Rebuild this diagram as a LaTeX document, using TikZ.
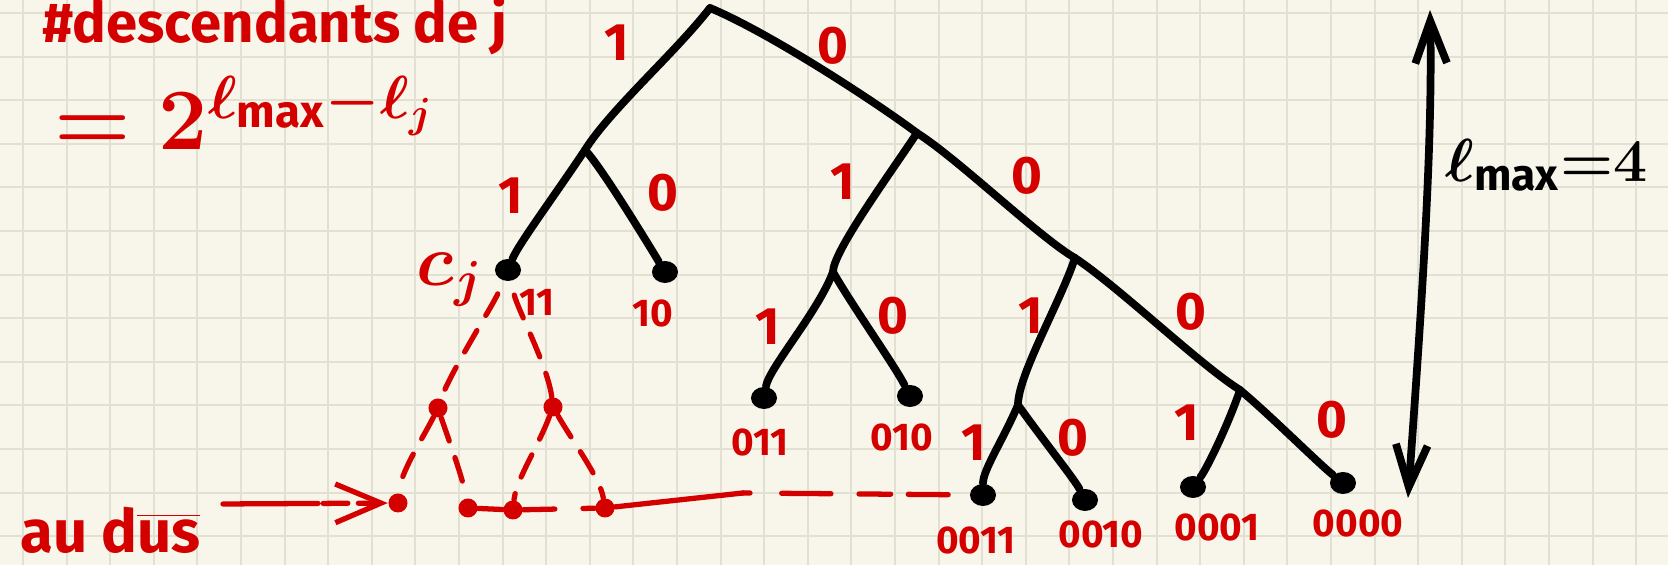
\documentclass[tikz,border=0pt]{standalone}
\usepackage{fontspec}
\setmainfont{Fira Sans}
\usetikzlibrary{arrows.meta,shapes.geometric}
\definecolor{paper}{HTML}{F8F6EA}
\definecolor{gridc}{HTML}{E2E0D3}
\definecolor{ink}{HTML}{D40000}
\tikzset{
  branch/.style={line width=2.2pt,line cap=round,line join=round},
  leaf/.style={ellipse,fill=black,inner sep=0pt,minimum width=0.26cm,minimum height=0.22cm},
  rdot/.style={circle,fill=ink,inner sep=0pt,minimum size=0.19cm},
  rdash/.style={ink,line width=1.5pt,line cap=round,dash pattern=on 7pt off 5pt},
  bit/.style={ink,font=\bfseries\fontsize{15}{15}\selectfont},
  code/.style={ink,font=\bfseries\fontsize{11}{11}\selectfont},
}

\begin{document}
\begin{tikzpicture}[line cap=round,line join=round,x=0.01cm,y=-0.01cm]
  % paper
  \fill[paper] (0,0) rectangle (1668,565);
  \useasboundingbox (0,0) rectangle (1668,565);
  \foreach \i in {0,...,37} {
    \draw[gridc,line width=0.6pt] ({23+43.6*\i},0) -- ++(0,565);
  }
  \foreach \j in {0,...,12} {
    \draw[gridc,line width=0.6pt] (0,{13+43.6*\j}) -- ++(1668,0);
  }

  % code tree
  \coordinate (root) at (710,8);
  \coordinate (n1) at (585,150);
  \coordinate (n0) at (917,133);
  \coordinate (n01) at (833,272);
  \coordinate (n00) at (1075,258);
  \coordinate (n001) at (1018,405);
  \coordinate (n000) at (1240,390);
  \node[leaf] (n11) at (508,270) {};
  \node[leaf] (n10) at (665,272) {};
  \node[leaf] (n011) at (764,398) {};
  \node[leaf] (n010) at (910,396) {};
  \node[leaf] (n0011) at (983,495) {};
  \node[leaf] (n0010) at (1085,500) {};
  \node[leaf] (n0001) at (1193,487) {};
  \node[leaf] (n0000) at (1343,483) {};

  \draw[branch] (root) .. controls +(-35,45) and +(25,-40) .. (n1);
  \draw[branch] (root) .. controls +(60,25) and +(-40,-30) .. (n0);
  \draw[branch] (n1) .. controls +(-30,45) and +(10,-25) .. (n11);
  \draw[branch] (n1) .. controls +(15,15) and +(-15,-25) .. (n10);
  \draw[branch] (n0) .. controls +(-30,45) and +(0,-20) .. (n01);
  \draw[branch] (n0) .. controls +(40,25) and +(-35,-20) .. (n00);
  \draw[branch] (n01) .. controls +(-15,40) and +(5,-30) .. (n011);
  \draw[branch] (n01) .. controls +(20,35) and +(-15,-30) .. (n010);
  \draw[branch] (n00) .. controls +(-15,45) and +(0,-30) .. (n001);
  \draw[branch] (n00) .. controls +(45,30) and +(-40,-25) .. (n000);
  \draw[branch] (n001) .. controls +(-15,35) and +(0,-25) .. (n0011);
  \draw[branch] (n001) .. controls +(25,35) and +(-10,-20) .. (n0010);
  \draw[branch] (n000) .. controls +(-10,30) and +(15,-20) .. (n0001);
  \draw[branch] (n000) .. controls +(30,25) and +(-25,-20) .. (n0000);

  % bits on the branches
  \node[bit] (b1) at (617,43) {1};
  \node[bit] (b0) at (833,46) {0};
  \node[bit] (b11) at (511,196) {1};
  \node[bit] (b10) at (663,193) {0};
  \node[bit] (b01) at (843,182) {1};
  \node[bit] (b00) at (1027,176) {0};
  \node[bit] (b011) at (768,327) {1};
  \node[bit] (b010) at (893,316) {0};
  \node[bit] (b001) at (1031,316) {1};
  \node[bit] (b000) at (1191,312) {0};
  \node[bit] (b0011) at (974,443) {1};
  \node[bit] (b0010) at (1073,438) {0};
  \node[bit] (b0001) at (1187,423) {1};
  \node[bit] (b0000) at (1332,420) {0};

  % codewords
  \node[code] (w11) at (537,302) {11};
  \node[code] (w10) at (653,314) {10};
  \node[code] (w011) at (760,443) {011};
  \node[code] (w010) at (902,437) {010};
  \node[code] (w0011) at (976,540) {0011};
  \node[code] (w0010) at (1101,535) {0010};
  \node[code] (w0001) at (1217,527) {0001};
  \node[code] (w0000) at (1358,523) {0000};
  \node[ink,font=\fontsize{20}{20}\selectfont\boldmath] (cj) at (450,280) {$c_j$};

  % descendants of c_j
  \node[rdot] (r1) at (438,408) {};
  \node[rdot] (r0) at (553,407) {};
  \node[rdot] (r11) at (398,503) {};
  \node[rdot] (r10) at (468,508) {};
  \node[rdot] (r01) at (513,510) {};
  \node[rdot] (r00) at (605,508) {};
  \draw[rdash,shorten <=4pt] (n11) .. controls +(-15,35) and +(12,-35) .. (r1);
  \draw[rdash,shorten <=4pt] (n11) .. controls +(10,40) and +(-5,-40) .. (r0);
  \draw[rdash] (r1) .. controls +(-15,30) and +(2,-30) .. (r11);
  \draw[rdash] (r1) .. controls +(10,30) and +(-5,-30) .. (r10);
  \draw[rdash] (r0) .. controls +(-15,40) and +(3,-30) .. (r01);
  \draw[rdash] (r0) .. controls +(20,35) and +(-5,-30) .. (r00);

  % lowest level
  \coordinate (dstart) at (223,504);
  \coordinate (dmid) at (743,493);
  \draw[ink,line width=1.5pt,dash pattern=on 27pt off 1.5pt on 7pt off 3pt,
    -{Straight Barb[length=13pt,width=11pt]}] (dstart) -- (r11);
  \draw[ink,line width=1.5pt] (r10) -- (r01);
  \draw[rdash,dash pattern=on 9pt off 8pt] (r01) -- (r00);
  \draw[ink,line width=1.5pt] (r00) -- (dmid);
  \draw[rdash,dash pattern=on 2pt off 9pt on 14pt off 8pt on 9pt off 5pt on 14pt off 30pt,
    shorten >=6pt] (dmid) -- (n0011);
  \node[ink,anchor=base west,font=\bfseries\fontsize{17}{17}\selectfont] (audus) at (8,553)
    {au d$\overline{\mbox{us}}$};

  % formula
  \node[ink,anchor=base west,font=\bfseries\fontsize{16}{16}\selectfont] (ndesc) at (30,43)
    {\#descendants de j};
  \node[ink,anchor=base west,font=\fontsize{26}{26}\selectfont\boldmath] (npow) at (42,150)
    {$=2^{\ell_{\max}-\ell_j}$};

  % depth
  \coordinate (ltop) at (1430,10);
  \coordinate (lbot) at (1408,498);
  \draw[branch,{Straight Barb[length=12pt,width=9pt]}-{Straight Barb[length=12pt,width=9pt]}]
    (lbot) .. controls +(12,-170) and +(3,140) .. (ltop);
  \node[anchor=east,font=\fontsize{18}{18}\selectfont\boldmath] (lmax) at (1660,165) {$\ell_{\max}{=}4$};
\end{tikzpicture}
\end{document}
